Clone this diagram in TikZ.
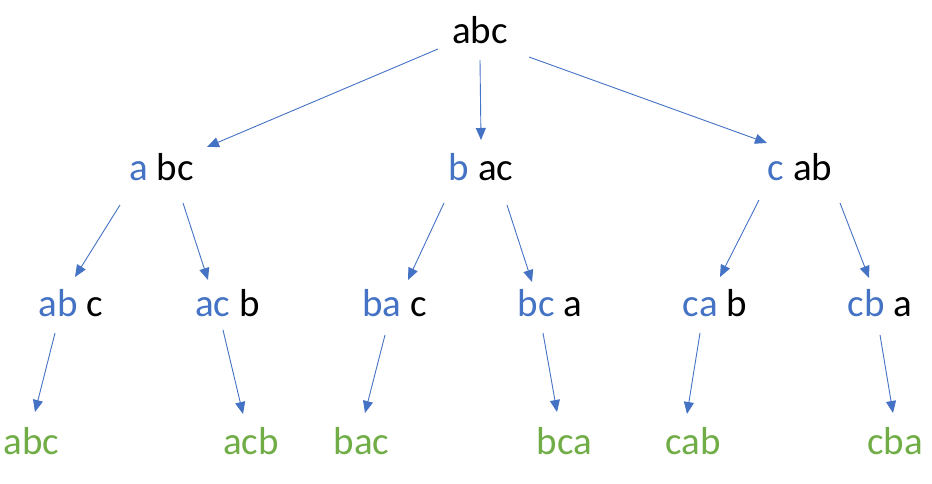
\documentclass[tikz,border=0pt]{standalone}
\usepackage{fontspec}
\setmainfont{Carlito}
\usetikzlibrary{arrows.meta}
\definecolor{pblue}{HTML}{4472C4}
\definecolor{pgreen}{HTML}{70AD47}
\begin{document}
\begin{tikzpicture}[x=1bp,y=1bp,
  lbl/.style={inner sep=0pt,anchor=base,font=\fontsize{39bp}{47bp}\selectfont},
  leaf/.style={lbl,text=pgreen},
  arr/.style={draw=pblue,line width=0.9bp,-{Triangle[length=12bp,width=10bp]}}]
\useasboundingbox (0,0) rectangle (932,484);
\newcommand\pre[1]{\textcolor{pblue}{#1}}
% root
\node[lbl] (r) at (480,440) {abc};
% first choice
\node[lbl] (n1) at (161.5,303) {\pre{a} bc};
\node[lbl] (n2) at (481,303) {\pre{b} ac};
\node[lbl] (n3) at (800,303) {\pre{c} ab};
% second choice
\node[lbl] (m1) at (71,167) {\pre{ab} c};
\node[lbl] (m2) at (227.5,167) {\pre{ac} b};
\node[lbl] (m3) at (394.5,167) {\pre{ba} c};
\node[lbl] (m4) at (550,167) {\pre{bc} a};
\node[lbl] (m5) at (715,167) {\pre{ca} b};
\node[lbl] (m6) at (880,167) {\pre{cb} a};
% permutations
\node[leaf] (l1) at (31.5,29) {abc};
\node[leaf] (l2) at (251,29) {acb};
\node[leaf] (l3) at (361.5,29) {bac};
\node[leaf] (l4) at (564.5,29) {bca};
\node[leaf] (l5) at (693,29) {cab};
\node[leaf] (l6) at (895,29) {cba};
% edges
\draw[arr] ([shift={(-42,-5)}]r.base) -- ([shift={(45.5,34)}]n1.base);
\draw[arr] ([shift={(0,-16)}]r.base) -- ([shift={(0,41)}]n2.base);
\draw[arr] ([shift={(49,-13)}]r.base) -- ([shift={(-33,38)}]n3.base);
\draw[arr] ([shift={(-41.5,-24)}]n1.base) -- ([shift={(4,40)}]m1.base);
\draw[arr] ([shift={(21.5,-22)}]n1.base) -- ([shift={(-19.5,37)}]m2.base);
\draw[arr] ([shift={(-37,-22)}]n2.base) -- ([shift={(13.5,37)}]m3.base);
\draw[arr] ([shift={(26,-24)}]n2.base) -- ([shift={(-18,35)}]m4.base);
\draw[arr] ([shift={(-41,-19)}]n3.base) -- ([shift={(5,40)}]m5.base);
\draw[arr] ([shift={(40,-22)}]n3.base) -- ([shift={(-11,39)}]m6.base);
\draw[arr] ([shift={(-16,-16)}]m1.base) -- ([shift={(3.5,43)}]l1.base);
\draw[arr] ([shift={(-4.5,-13)}]m2.base) -- ([shift={(-8,41)}]l2.base);
\draw[arr] ([shift={(-9.5,-18)}]m3.base) -- ([shift={(3.5,42)}]l3.base);
\draw[arr] ([shift={(-7,-16)}]m4.base) -- ([shift={(-7.5,43)}]l4.base);
\draw[arr] ([shift={(-15,-16)}]m5.base) -- ([shift={(-6,41)}]l5.base);
\draw[arr] ([shift={(0,-18)}]m6.base) -- ([shift={(-2,42)}]l6.base);
\end{tikzpicture}
\end{document}
